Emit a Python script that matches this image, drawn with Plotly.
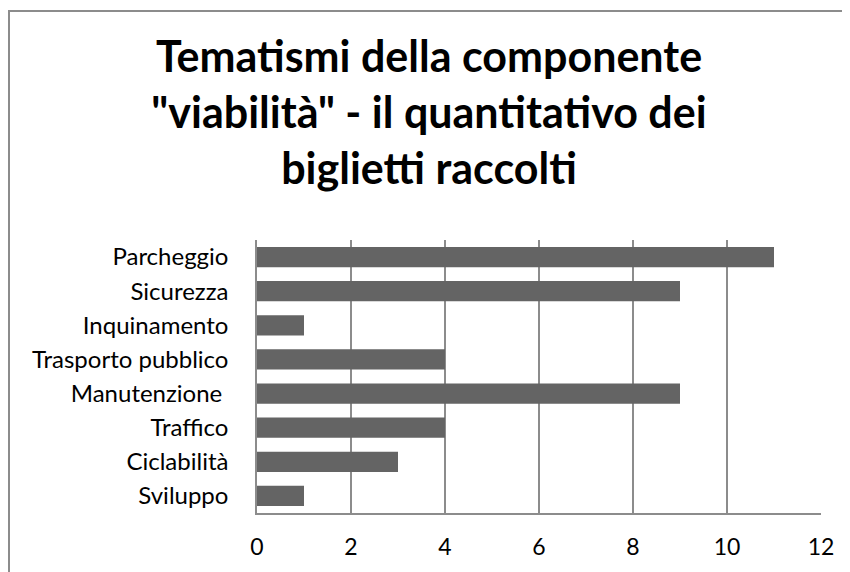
import plotly.graph_objects as go

categories = ["Parcheggio", "Sicurezza", "Inquinamento", "Trasporto pubblico",
              "Manutenzione ", "Traffico", "Ciclabilità", "Sviluppo"]
values = [11, 9, 1, 4, 9, 4, 3, 1]
x_ticks = [0, 2, 4, 6, 8, 10, 12]

title_text = 'Tematismi della componente<br>"viabilità" - il quantitativo dei<br>biglietti raccolti'

FONT = "Lato"
GRID = "#8c8c8c"

fig = go.Figure(go.Bar(
    x=values,
    y=categories,
    orientation="h",
    marker=dict(color="#646464", line=dict(width=0)),
    width=0.59,
))

# page body has an 8px default margin; the figure is sized to fill the rest
W, H = 842, 564
L, R, T, B = 249, 29, 232, 59
pw = W - L - R
ph = H - T - B

fig.update_layout(
    width=W, height=H,
    margin=dict(l=L, r=R, t=T, b=B),
    paper_bgcolor="white",
    plot_bgcolor="white",
    showlegend=False,
    title=dict(
        text=title_text,
        x=0.5, xanchor="center",
        y=1 - 64 / H, yanchor="top",
        font=dict(family=FONT, size=43, color="black", weight="bold"),
    ),
    font=dict(family=FONT, size=24, color="black"),
    xaxis=dict(
        range=[0, 12],
        tickvals=x_ticks,
        showgrid=True,
        gridcolor=GRID,
        gridwidth=1.5,
        zeroline=False,
        showline=True,
        linecolor=GRID,
        linewidth=1.5,
        ticks="",
        ticklabelstandoff=13,
        tickfont=dict(family=FONT, size=23),
        fixedrange=True,
    ),
    yaxis=dict(
        categoryorder="array",
        categoryarray=categories[::-1],
        showgrid=False,
        zeroline=False,
        showline=True,
        linecolor=GRID,
        linewidth=1.5,
        ticks="",
        ticklabelstandoff=22,
        tickfont=dict(family=FONT, size=24),
        fixedrange=True,
    ),
    shapes=[
        dict(
            type="rect", xref="paper", yref="paper",
            x0=(1 - L) / pw, x1=(W + 20 - L) / pw,
            y0=-(B + 20) / ph, y1=1 + (T - 3) / ph,
            line=dict(color=GRID, width=2),
            fillcolor="rgba(0,0,0,0)",
            layer="below",
        )
    ],
)

fig.write_html("out.html")
